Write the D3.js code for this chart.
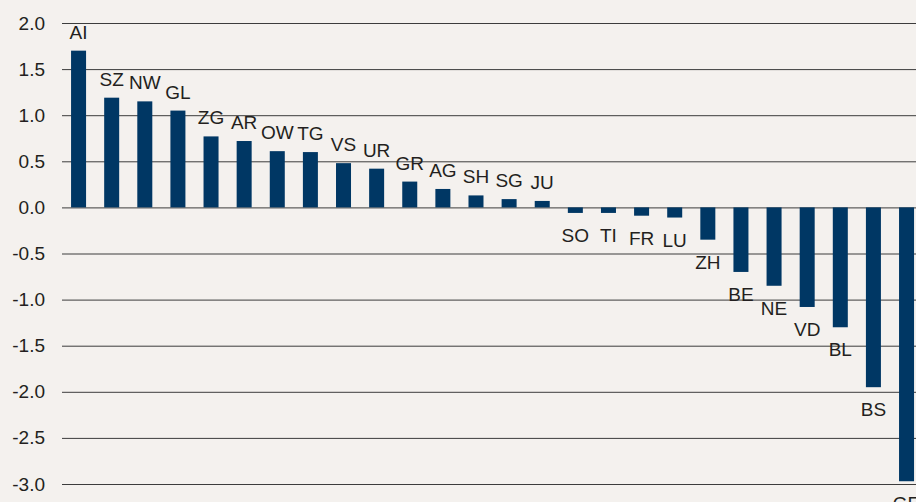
<!DOCTYPE html>
<html>
<head>
<meta charset="utf-8">
<script src="https://cdn.jsdelivr.net/npm/d3@7"></script>
<style>
  html, body { margin: 0; padding: 0; background: #f4f1ee; }
  svg { display: block; }
  text { font-family: "Liberation Sans", Arial, Helvetica, sans-serif; }
</style>
</head>
<body>
<svg id="chart" width="916" height="502"></svg>
<script>
const cantons = ["AI","SZ","NW","GL","ZG","AR","OW","TG","VS","UR","GR","AG","SH","SG","JU","SO","TI","FR","LU","ZH","BE","NE","VD","BL","BS","GE"];
const values  = [1.70,1.19,1.15,1.05,0.77,0.72,0.61,0.60,0.48,0.42,0.28,0.20,0.13,0.09,0.07,-0.06,-0.06,-0.09,-0.11,-0.35,-0.70,-0.85,-1.08,-1.30,-1.95,-2.97];
const yTicks  = [2.0,1.5,1.0,0.5,0.0,-0.5,-1.0,-1.5,-2.0,-2.5,-3.0];

const W = 916, H = 502;
const svg = d3.select("#chart");
svg.append("rect").attr("width", W).attr("height", H).attr("fill", "#f4f1ee");

const data = cantons.map((c, i) => ({ c, v: values[i] }));

const x = d3.scaleBand().domain(cantons).range([62, 923.1]).paddingInner(0.547).paddingOuter(0.2735);
const y = d3.scaleLinear().domain([-3, 2]).range([484, 23]);

// gridlines + tick labels via axis
const axis = d3.axisLeft(y).tickValues(yTicks).tickFormat(d3.format(".1f")).tickSize(-(W - 62)).tickPadding(17);
const g = svg.append("g").attr("transform", "translate(62,0)").call(axis);
g.select(".domain").remove();
g.selectAll(".tick line").attr("stroke", "#3c3c3c").attr("stroke-width", 1);
g.selectAll(".tick text")
  .attr("font-size", 19)
  .attr("fill", "#231f20")
  .attr("font-family", "'Liberation Sans', Arial, Helvetica, sans-serif")
  .text(d => d3.format(".1f")(d).replace("−", "-"));

// bars
svg.append("g").selectAll("rect").data(data).join("rect")
  .attr("x", d => x(d.c))
  .attr("width", x.bandwidth())
  .attr("y", d => y(Math.max(0, d.v)))
  .attr("height", d => Math.abs(y(d.v) - y(0)))
  .attr("fill", "#003764");

// labels
svg.append("g").selectAll("text").data(data).join("text")
  .attr("x", d => x(d.c) + x.bandwidth() / 2)
  .attr("y", d => d.v >= 0 ? y(d.v) - 12 : y(d.v) + 29)
  .attr("text-anchor", "middle")
  .attr("font-size", 19)
  .attr("fill", "#231f20")
  .text(d => d.c);
</script>
</body>
</html>
